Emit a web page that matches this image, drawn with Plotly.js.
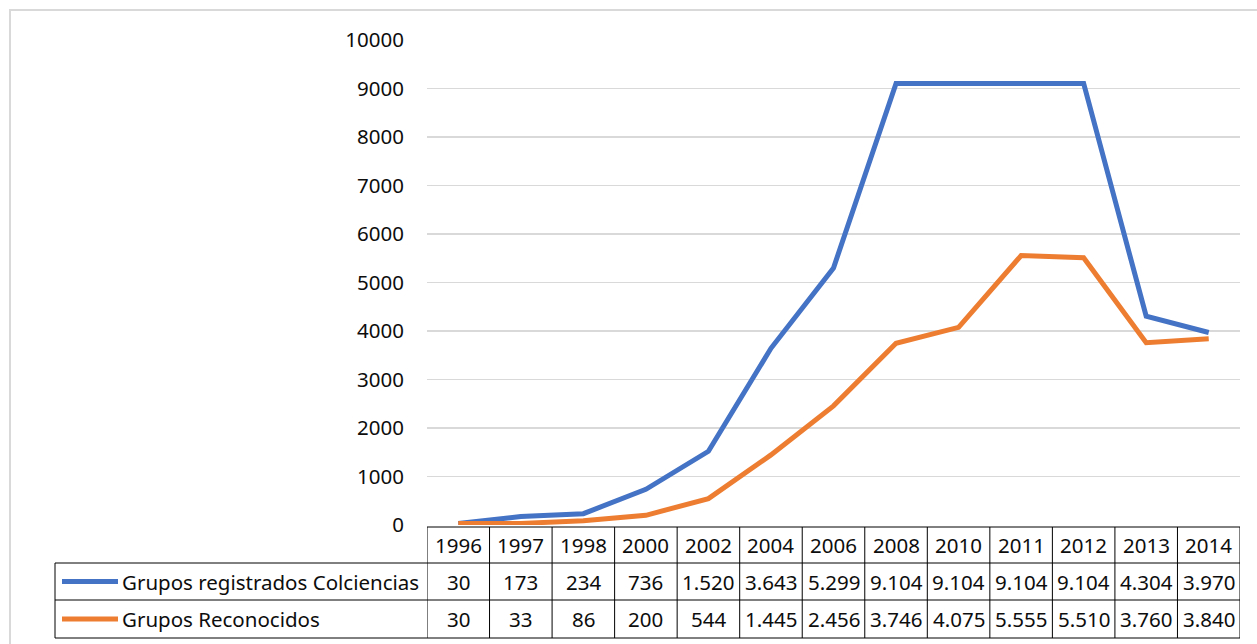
<!DOCTYPE html>
<html>
<head>
<meta charset="utf-8">
<script src="https://cdn.plot.ly/plotly-3.0.1.min.js"></script>
<style>html,body{margin:0;padding:0;background:#fff;}#chart{width:1257px;height:644px;}</style>
</head>
<body>
<div id="chart"></div>
<script>
const years = ['1996','1997','1998','2000','2002','2004','2006','2008','2010','2011','2012','2013','2014'];
const registrados = [30,173,234,736,1520,3643,5299,9104,9104,9104,9104,4304,3970];
const reconocidos = [30,33,86,200,544,1445,2456,3746,4075,5555,5510,3760,3840];
const seriesNames = ['Grupos registrados Colciencias','Grupos Reconocidos'];
const seriesColors = ['#4472C4','#ED7D31'];
const seriesValues = [registrados, reconocidos];

function fmt(v){ return String(v).replace(/\B(?=(\d{3})+(?!\d))/g,'.'); }

// pixel geometry helpers (plot area: x 427..1240, y 40..525)
const PH = 485, PW = 813, L = 427, B = 525;
const py = p => (B - p) / PH;
const px = p => (p - L) / PW;

const font = {family:'Noto Sans, Open Sans, sans-serif', size:20.5, color:'#0d0d0d'};
const traces = seriesValues.map((vals,i)=>({
  type:'scatter', mode:'lines', x:years, y:vals, name:seriesNames[i],
  line:{color:seriesColors[i], width:5}, hoverinfo:'x+y'
}));

const shapes = [];
const annotations = [];
const rowY = [527, 563, 600, 638];
const lineCol = '#000';
// chart border
shapes.push({type:'rect', xref:'paper', yref:'paper', x0:px(10), x1:px(1270), y0:py(660), y1:py(10), line:{color:'#d9d9d9', width:2}, layer:'below'});
// horizontal table lines
shapes.push({type:'line', xref:'x', yref:'paper', x0:-0.5, x1:years.length-0.5, y0:py(rowY[0]), y1:py(rowY[0]), line:{color:lineCol,width:1}});
for (let r=1;r<4;r++){
  shapes.push({type:'line', xref:'paper', yref:'paper', x0:px(55), x1:1, y0:py(rowY[r]), y1:py(rowY[r]), line:{color:lineCol,width:1}});
}
// vertical table lines
for (let i=0;i<=years.length;i++){
  shapes.push({type:'line', xref:'x', yref:'paper', x0:i-0.5, x1:i-0.5, y0:py(rowY[0]), y1:py(rowY[3]), line:{color:lineCol,width:1}});
}
shapes.push({type:'line', xref:'paper', yref:'paper', x0:px(55), x1:px(55), y0:py(rowY[1]), y1:py(rowY[3]), line:{color:lineCol,width:1}});
// header labels
years.forEach((y,i)=>{
  annotations.push({xref:'x', yref:'paper', x:i, y:py((rowY[0]+rowY[1])/2), text:y, showarrow:false, font:font, xanchor:'center', yanchor:'middle'});
});
// rows
seriesValues.forEach((vals,s)=>{
  const yc = py((rowY[s+1]+rowY[s+2])/2);
  vals.forEach((v,i)=>{
    annotations.push({xref:'x', yref:'paper', x:i, y:yc, text:fmt(v), showarrow:false, font:font, xanchor:'center', yanchor:'middle'});
  });
  shapes.push({type:'line', xref:'paper', yref:'paper', x0:px(62), x1:px(118), y0:yc, y1:yc, line:{color:seriesColors[s], width:5}});
  annotations.push({xref:'paper', yref:'paper', x:px(120), y:yc, text:seriesNames[s], showarrow:false, font:font, xanchor:'left', yanchor:'middle'});
});

const layout = {
  width:1257, height:644,
  margin:{l:L, r:1257-1240, t:40, b:644-525, pad:0},
  paper_bgcolor:'#fff', plot_bgcolor:'#fff',
  showlegend:false,
  xaxis:{type:'category', range:[-0.5, years.length-0.5], showticklabels:false, showgrid:false, zeroline:false, showline:false, ticks:''},
  yaxis:{range:[0,10000], dtick:1000, tickformat:'d', showgrid:true, gridcolor:'#d9d9d9', gridwidth:1.5, zeroline:false, showline:false, ticks:'', ticklabelstandoff:22, tickfont:font},
  shapes:shapes, annotations:annotations
};
Plotly.newPlot('chart', traces, layout, {displayModeBar:false, staticPlot:true});
</script>
</body>
</html>
